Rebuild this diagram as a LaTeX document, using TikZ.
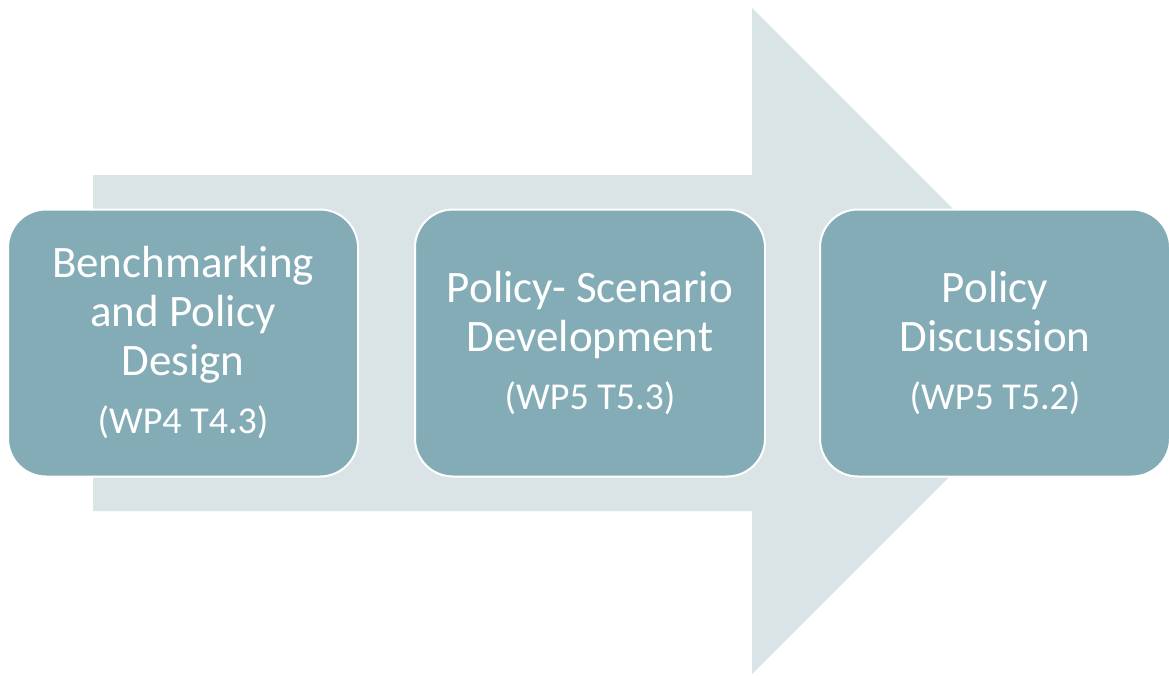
\documentclass[tikz,border=0pt]{standalone}
\usepackage{fontspec}
\setmainfont{Carlito}
\definecolor{boxfill}{HTML}{84ACB6}
\definecolor{arrowfill}{HTML}{DAE3E5}
\begin{document}
\begin{tikzpicture}[x=1pt,y=-1pt,
  stagebox/.style={draw=white, line width=2pt, fill=boxfill, rounded corners=38pt,
    minimum width=350pt, minimum height=267pt, text=white, align=center,
    font=\fontsize{45}{49}\selectfont, inner sep=0pt}]
\useasboundingbox (0,0) rectangle (1169,675);
% big arrow
\fill[arrowfill] (93,175) -- (752,175) -- (752,8) -- (1085,341) -- (752,674) -- (752,511) -- (93,511) -- cycle;
% boxes
\node[stagebox] (b1) at (183,343) {Benchmarking\\and Policy\\Design\\[9pt]{\fontsize{38}{40}\selectfont (WP4 T4.3)}};
\node[stagebox] (b2) at (590,343) {Policy- Scenario\\Development\\[9pt]{\fontsize{38}{40}\selectfont (WP5 T5.3)}};
\node[stagebox] (b3) at (995,343) {Policy\\Discussion\\[9pt]{\fontsize{38}{40}\selectfont (WP5 T5.2)}};
\end{tikzpicture}
\end{document}
